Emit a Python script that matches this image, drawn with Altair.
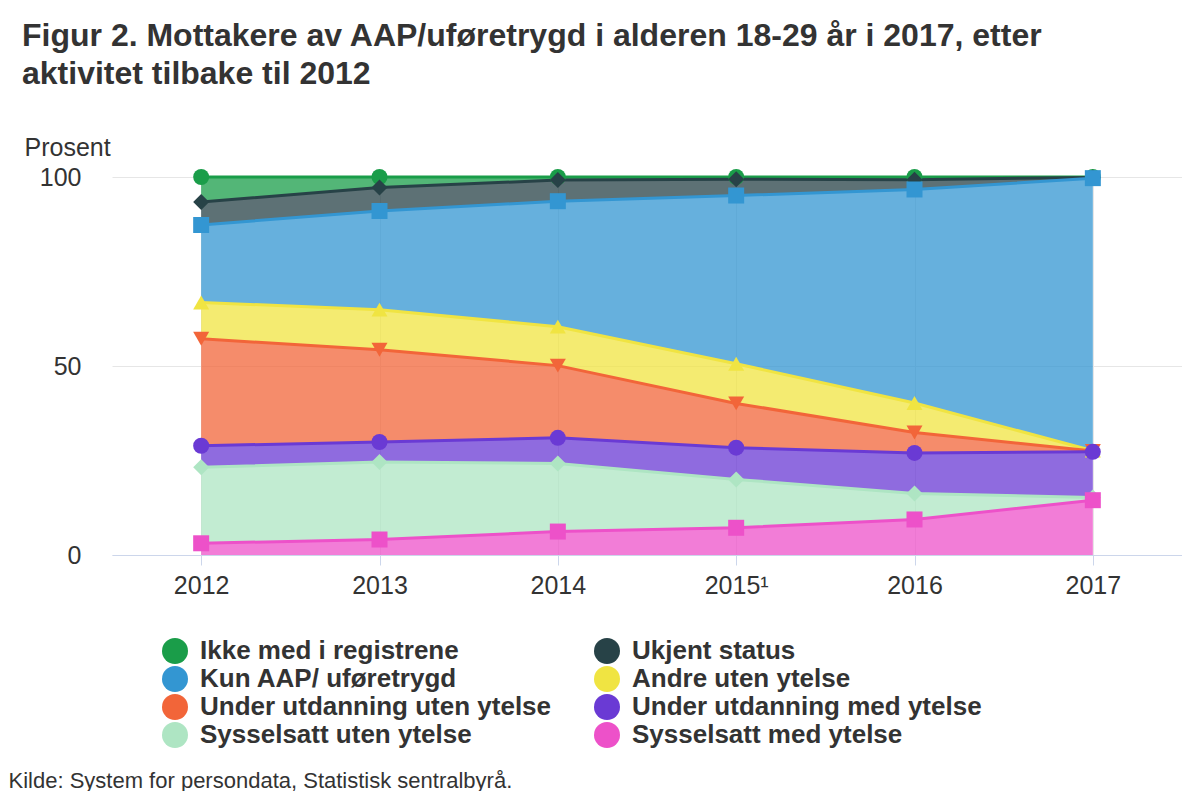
import altair as alt
import pandas as pd

years = ["2012", "2013", "2014", "2015¹", "2016", "2017"]
series = [
    "Ikke med i registrene",
    "Ukjent status",
    "Kun AAP/ uføretrygd",
    "Andre uten ytelse",
    "Under utdanning uten ytelse",
    "Under utdanning med ytelse",
    "Sysselsatt uten ytelse",
    "Sysselsatt med ytelse",
]
ikke_med = [6.6, 2.8, 0.8, 0.6, 0.7, 0.1]
ukjent = [6.1, 6.2, 5.6, 4.3, 2.6, 0.2]
kun_aap = [20.5, 26.1, 33.2, 44.5, 56.5, 72.1]
andre = [9.6, 10.6, 10.3, 10.5, 7.8, 0.1]
utd_uten = [28.3, 24.4, 19.1, 11.7, 5.4, 0.2]
utd_med = [5.7, 5.3, 6.8, 8.4, 10.7, 12.1]
syss_uten = [20.1, 20.5, 18.0, 12.8, 6.9, 0.7]
syss_med = [3.1, 4.1, 6.2, 7.2, 9.4, 14.5]
values = [ikke_med, ukjent, kun_aap, andre, utd_uten, utd_med, syss_uten, syss_med]

colors = ["#1a9d49", "#274247", "#3396d2", "#f0e442", "#f26539",
          "#6a3ad4", "#aee5c3", "#ed51c9"]
shapes = ["circle", "diamond", "square", "triangle-up", "triangle-down",
          "circle", "diamond", "square"]

rows = []
for i, (name, vals) in enumerate(zip(series, values)):
    for y, v in zip(years, vals):
        rows.append({"year": y, "series": name, "marker": name, "value": v, "idx": i})
df = pd.DataFrame(rows)

FONT = "Liberation Sans, Arial, sans-serif"

color_enc = alt.Color(
    "series:N",
    scale=alt.Scale(domain=series, range=colors),
    sort=series,
    legend=alt.Legend(
        title=None,
        orient="none",
        direction="horizontal",
        legendX=50,
        legendY=461,
        columns=2,
        symbolType="circle",
        symbolSize=676,
        symbolStrokeWidth=0,
        symbolOpacity=1,
        labelFont=FONT,
        labelFontSize=26,
        labelFontWeight="bold",
        labelColor="#333333",
        labelOffset=12,
        columnPadding=42,
        rowPadding=2,
        labelLimit=600,
    ),
)

x_enc = alt.X(
    "year:O",
    sort=years,
    scale=alt.Scale(type="point", padding=0.5),
    axis=alt.Axis(
        title="Kilde: System for persondata, Statistisk sentralbyrå.",
        titleX=-104,
        titleY=225,
        titleAlign="left",
        titleBaseline="middle",
        titleFont=FONT,
        titleFontSize=22,
        titleFontWeight="normal",
        titleColor="#333333",
        labelAngle=0,
        labelFont=FONT,
        labelFontSize=25,
        labelColor="#333333",
        labelPadding=8,
        domainColor="#ccd6eb",
        tickColor="#ccd6eb",
        tickSize=10,
        grid=True,
        gridColor="#e6e6e6",
    ),
)

y_scale = alt.Scale(domain=[0, 100], nice=False)
y_axis = alt.Axis(
    values=[0, 50, 100],
    title="Prosent",
    titleAngle=0,
    titleX=-88,
    titleY=-30,
    titleAlign="left",
    titleBaseline="middle",
    titleFont=FONT,
    titleFontSize=25,
    titleFontWeight="normal",
    titleColor="#333333",
    labelFont=FONT,
    labelFontSize=25,
    labelColor="#333333",
    labelPadding=31,
    domain=False,
    ticks=False,
    grid=True,
    gridColor="#e6e6e6",
)

base = alt.Chart(df).transform_stack(
    stack="value",
    groupby=["year"],
    as_=["y0", "y1"],
    sort=[alt.SortField("idx", order="descending")],
)

area = base.mark_area(opacity=0.75).encode(
    x=x_enc,
    y=alt.Y("y1:Q", scale=y_scale, axis=y_axis),
    y2="y0:Q",
    color=color_enc,
    order=alt.Order("idx:Q"),
)

line = base.mark_line(strokeWidth=3).encode(
    x=x_enc,
    y=alt.Y("y1:Q", scale=y_scale, axis=y_axis),
    color=color_enc,
)

points = base.mark_point(filled=True, size=256, opacity=1, strokeWidth=0).encode(
    x=x_enc,
    y=alt.Y("y1:Q", scale=y_scale, axis=y_axis),
    color=color_enc,
    shape=alt.Shape(
        "marker:N",
        scale=alt.Scale(domain=series[::-1], range=shapes[::-1]),
        legend=None,
    ),
    order=alt.Order("idx:Q"),
)

chart = alt.layer(area, line, points).properties(
    width=1070,
    height=378,
    padding={"top": 12, "left": 0, "right": 0, "bottom": 0},
    title=alt.TitleParams(
        text=["Figur 2. Mottakere av AAP/uføretrygd i alderen 18-29 år i 2017, etter",
              "aktivitet tilbake til 2012"],
        anchor="start",
        frame="group",
        dx=-90,
        offset=44,
        font=FONT,
        fontSize=32,
        fontWeight="bold",
        color="#333333",
        lineHeight=38,
    ),
).configure(background="white").configure_view(stroke=None)

chart.save("out.html", embed_options={"renderer": "svg", "actions": False})
